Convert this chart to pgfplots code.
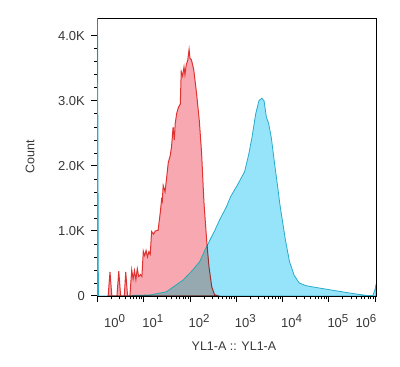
\documentclass[border=0pt]{standalone}
\usepackage{fontspec}
\setmainfont{Liberation Sans}
\usepackage{pgfplots}
\pgfplotsset{compat=1.18}
\definecolor{cyanfill}{RGB}{150,228,250}
\definecolor{cyanline}{RGB}{40,170,200}
\definecolor{redfill}{RGB}{248,168,176}
\definecolor{redline}{RGB}{225,50,50}
\definecolor{txt}{RGB}{55,55,55}
\newcommand{\ex}[1]{\raisebox{4.6pt}{\fontsize{11.5}{12}\selectfont #1}}
\begin{document}
\begin{tikzpicture}
\useasboundingbox (-97.5pt,-71pt) rectangle (302.5pt,296pt);
\begin{axis}[
  scale only axis, width=278.5pt, height=278pt,
  xmin=0, xmax=6.02, ymin=0, ymax=4272,
  axis line style={black, line width=0.6pt},
  tick align=outside, tick pos=left,
  major tick length=6pt, minor tick length=3.5pt,
  every major tick/.append style={line width=1pt, black},
  every minor tick/.append style={line width=0.6pt, black},
  xtick={0,1,2,3,4,5},
  xticklabels={\hspace*{8pt}10\ex{0},10\ex{1},10\ex{2},10\ex{3},10\ex{4},10\ex{5}},
  extra x ticks={6},
  extra x tick labels={10\ex{6}},
  extra x tick style={xticklabel style={anchor=base east, xshift=3pt}},
  minor xtick={0.301,0.477,0.602,0.699,0.778,0.845,0.903,0.954,
    1.301,1.477,1.602,1.699,1.778,1.845,1.903,1.954,
    2.301,2.477,2.602,2.699,2.778,2.845,2.903,2.954,
    3.301,3.477,3.602,3.699,3.778,3.845,3.903,3.954,
    4.301,4.477,4.602,4.699,4.778,4.845,4.903,4.954,
    5.301,5.477,5.602,5.699,5.778,5.845,5.903,5.954},
  xticklabel style={anchor=base west, inner sep=0pt, yshift=-25.5pt, xshift=-1.5pt, font=\fontsize{13}{15}\selectfont, text=txt},
  ytick={0,1000,2000,3000,4000},
  yticklabels={0,1.0K,2.0K,3.0K,4.0K},
  minor y tick num=4,
  yticklabel style={anchor=east, inner sep=0pt, xshift=-6.5pt, font=\fontsize{13}{15}\selectfont, text=txt},
  xlabel={YL1-A :: YL1-A},
  ylabel={Count},
  label style={font=\fontsize{12.5}{14}\selectfont, text=txt},
  xlabel style={at={(axis description cs:0.49,-0.18)}, anchor=center},
  ylabel style={at={(axis description cs:-0.2424,0.5)}, anchor=center},
]
% cyan (stained) histogram, x in decades
\addplot[draw=cyanline, fill=cyanfill, line width=0.8pt] coordinates {
(0,0) (0,4500) (0.02,0) (0.7,0) (0.8,10) (1.13,15) (1.49,65) (1.85,245) (2.06,400)
(2.21,530) (2.32,700) (2.43,860) (2.54,1015) (2.64,1170) (2.79,1375) (2.88,1530)
(3.02,1700) (3.18,1910) (3.27,2180) (3.34,2440) (3.42,2800) (3.49,3000) (3.55,3040)
(3.60,3000) (3.65,2750) (3.70,2650) (3.76,2420) (3.83,2020) (3.90,1650) (3.94,1420)
(4.01,1100) (4.06,870) (4.15,530) (4.25,320) (4.36,200) (4.50,160) (4.65,140)
(4.90,110) (5.2,75) (5.5,40) (5.8,10) (5.95,5) (6.0,100) (6.02,180) (6.02,0)
} \closedcycle;
% red (control) histogram
\addplot[draw=redline, fill=redfill, line width=1pt, blend mode=darken] coordinates {
(0.23,0) (0.27,370) (0.31,0) (0.42,0) (0.46,380) (0.50,0) (0.58,0) (0.61,370) (0.65,0)
(0.70,0) (0.74,400) (0.77,260) (0.80,390) (0.83,250) (0.86,420) (0.89,300) (0.93,330)
(0.96,300) (0.99,690) (1.02,620) (1.05,700) (1.08,600) (1.11,680) (1.14,640) (1.17,990)
(1.21,950) (1.25,1000) (1.31,1010) (1.36,1300) (1.385,1480) (1.40,1450) (1.42,1700)
(1.46,1600) (1.49,1790) (1.53,2050) (1.57,2150) (1.60,2290) (1.635,2600) (1.66,2400)
(1.68,2650) (1.71,2800) (1.75,2900) (1.79,2950) (1.81,3450) (1.84,3380) (1.87,3520)
(1.89,3400) (1.92,3560) (1.95,3620) (1.98,3790) (2.00,3650) (2.03,3630) (2.08,3480)
(2.14,3120) (2.20,2700) (2.25,2200) (2.30,1450) (2.36,850) (2.41,450) (2.47,140)
(2.53,20) (2.62,0)
} \closedcycle;
\end{axis}
\end{tikzpicture}
\end{document}
